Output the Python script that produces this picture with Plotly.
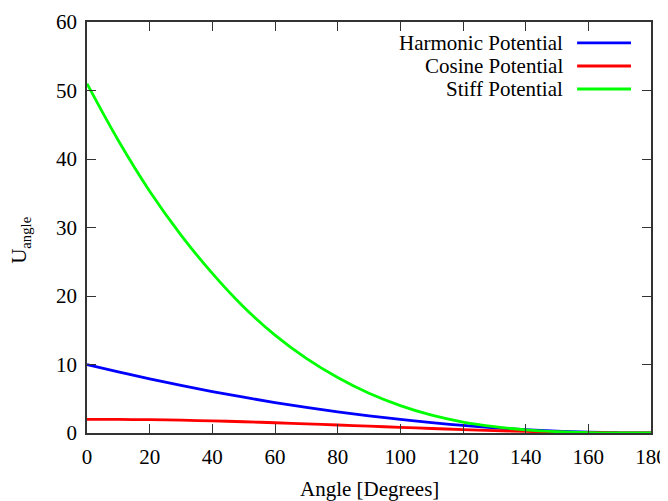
import plotly.graph_objects as go

angles = [0, 10, 20, 30, 40, 50, 60, 70, 80, 90, 100, 110, 120, 130, 140, 150, 160, 170, 180]
harmonic = [10.0, 8.93, 7.90, 6.94, 6.05, 5.22, 4.44, 3.73, 3.09, 2.50, 1.98, 1.51, 1.11, 0.77, 0.49, 0.28, 0.12, 0.03, 0.0]
cosine = [2.0, 1.98, 1.94, 1.87, 1.77, 1.64, 1.50, 1.34, 1.17, 1.00, 0.83, 0.66, 0.50, 0.36, 0.23, 0.13, 0.06, 0.02, 0.0]
stiff = [51.0, 42.7, 35.3, 28.9, 23.3, 18.4, 14.3, 10.9, 8.1, 5.8, 4.0, 2.6, 1.6, 0.92, 0.46, 0.19, 0.05, 0.01, 0.0]

series_names = ["Harmonic Potential", "Cosine Potential", "Stiff Potential"]
series_values = [harmonic, cosine, stiff]
series_colors = ["#0000ff", "#ff0000", "#00ff00"]

x_ticks = [0, 20, 40, 60, 80, 100, 120, 140, 160, 180]
y_ticks = [0, 10, 20, 30, 40, 50, 60]

x_title = "Angle [Degrees]"
y_title = "U<sub>angle</sub>"

FONT = "Liberation Serif"

fig = go.Figure()
for name, vals, col in zip(series_names, series_values, series_colors):
    fig.add_trace(go.Scatter(x=angles, y=vals, mode="lines", name=name,
                             line=dict(color=col, width=2.8, shape="spline", smoothing=1.0),
                             showlegend=False))

# gnuplot-style legend: text right-aligned, line sample to the right
leg_y = [0.949, 0.893, 0.837]
for name, col, yy in zip(series_names, series_colors, leg_y):
    fig.add_annotation(xref="paper", yref="paper", x=0.8475, y=yy, text=name,
                       showarrow=False, xanchor="right", yanchor="middle",
                       font=dict(family=FONT, size=21, color="black"))
    fig.add_shape(type="line", xref="paper", yref="paper", x0=0.869, x1=0.9645,
                  y0=yy, y1=yy, line=dict(color=col, width=2.8))

# axis titles
fig.add_annotation(xref="paper", yref="paper", x=0.5, y=-0.1363, text=x_title,
                   showarrow=False, xanchor="center", yanchor="middle",
                   font=dict(family=FONT, size=21, color="black"))
fig.add_annotation(xref="paper", yref="paper", x=-0.1188, y=0.47, text=y_title,
                   showarrow=False, xanchor="center", yanchor="middle", textangle=-90,
                   font=dict(family=FONT, size=21, color="black"))

axis_common = dict(showline=True, linecolor="#333333", linewidth=1.5, mirror="allticks",
                   ticks="inside", ticklen=9, tickwidth=1.3, tickcolor="#333333",
                   showgrid=False, zeroline=False, automargin=False,
                   tickfont=dict(family=FONT, size=21, color="black"))

fig.update_xaxes(range=[0, 180], tickvals=x_ticks, ticktext=[str(v) for v in x_ticks],
                 ticklabelstandoff=4, **axis_common)
fig.update_yaxes(range=[0, 60], tickvals=y_ticks, ticktext=[str(v) for v in y_ticks],
                 ticklabelstandoff=4, **axis_common)

# page body has an 8px margin, so the figure is shrunk by that amount
fig.update_layout(width=660, height=493, plot_bgcolor="white", paper_bgcolor="white",
                  margin=dict(l=79, r=17, t=14, b=68),
                  font=dict(family=FONT, color="black"))

fig.write_html("out.html")
